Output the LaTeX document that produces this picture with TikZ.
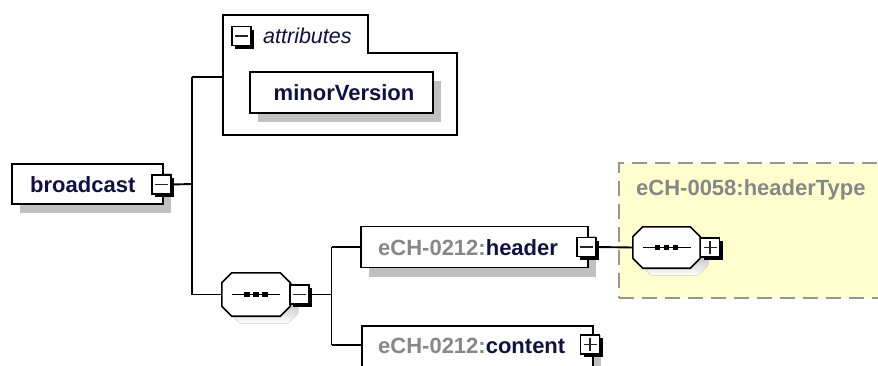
\documentclass[tikz,border=0pt]{standalone}
\usepackage{fontspec}
\setmainfont{Liberation Sans}
\usetikzlibrary{shadows,calc}
\definecolor{navy}{RGB}{16,16,70}
\definecolor{pref}{RGB}{135,135,135}
\definecolor{shade}{RGB}{192,192,192}
\definecolor{ylw}{RGB}{255,255,206}
\definecolor{dashc}{RGB}{150,150,150}
\tikzset{
  elembox/.style={draw=black, line width=1.8pt, fill=white, rectangle, inner sep=0pt,
    drop shadow={shadow xshift=8pt, shadow yshift=-9pt, fill=shade, opacity=1}},
  btnbox/.style={draw=black, line width=1.5pt, fill=white, rectangle, inner sep=0pt,
    minimum width=19pt, minimum height=19pt,
    drop shadow={shadow xshift=3.2pt, shadow yshift=-3.2pt, fill=black, opacity=1}},
  seqanchor/.style={rectangle, inner sep=0pt, draw=none},
  conn/.style={draw=black, line width=1.9pt},
  lbl/.style={inner sep=0pt, text=navy, font=\fontsize{22}{24}\selectfont\bfseries},
  sign/.style={line width=1.8pt, draw=black!85},
}
\newcommand{\minussign}[1]{\draw[sign] ([xshift=-6.5pt]#1.center) -- ([xshift=6.5pt]#1.center);}
\newcommand{\plussign}[1]{\draw[sign] ([xshift=-6.5pt]#1.center) -- ([xshift=6.5pt]#1.center);
  \draw[sign] ([yshift=-6.5pt]#1.center) -- ([yshift=6.5pt]#1.center);}
\newcommand{\octapath}[2]{% node, offset
  ($(#1.north west)+(#2)+(10,0)$) -- ($(#1.north east)+(#2)+(-10,0)$) --
  ($(#1.north east)+(#2)+(0,10)$) -- ($(#1.south east)+(#2)+(0,-10)$) --
  ($(#1.south east)+(#2)+(-10,0)$) -- ($(#1.south west)+(#2)+(10,0)$) --
  ($(#1.south west)+(#2)+(0,-10)$) -- ($(#1.north west)+(#2)+(0,10)$) -- cycle}
\newcommand{\seqglyph}[1]{%
  \fill[shade] \octapath{#1}{8,7};
  \draw[line width=1.6pt, fill=white] \octapath{#1}{0,0};
  \draw[line width=1.5pt] ([xshift=-24pt]#1.center) -- ([xshift=24pt]#1.center);
  \foreach \dx in {-9,0,9} {\fill ([xshift=\dx pt]#1.center) +(-2.7pt,-2.7pt) rectangle +(2.7pt,2.7pt);}}
\begin{document}
\begin{tikzpicture}[x=1pt,y=-1pt]
\useasboundingbox (0,0) rectangle (878,365);
\clip (0,0) rectangle (878,365);

% headerType dashed area
\node[draw=dashc, fill=ylw, line width=2pt, dash pattern=on 15pt off 8pt, rectangle,
  minimum width=280pt, minimum height=135pt, anchor=north west, inner sep=0pt] (htype) at (618,162) {};
\node[lbl, text=pref, anchor=base west] (htypet) at (636,195) {eCH-0058:headerType};

% attributes group
\draw[line width=1.8pt, fill=white] (223,15) -- (368,15) -- (368,53) -- (457,53) -- (457,135) -- (223,135) -- cycle;
\coordinate (attrin) at (223,77);
\node[btnbox] (attrbtn) at (241.5,36) {};
\minussign{attrbtn}
\node[inner sep=0pt, anchor=base west, text=navy, font=\fontsize{21.5}{24}\selectfont\itshape] (attrt) at (263,43) {attributes};

% minorVersion
\node[elembox, minimum width=183pt, minimum height=41pt] (minor) at (341.5,92.5) {};
\node[lbl, anchor=base] (minort) at (344,100.5) {minorVersion};

% broadcast
\node[elembox, minimum width=151pt, minimum height=40pt] (bc) at (87.5,184) {};
\node[lbl, anchor=base west] (bct) at (30,192) {broadcast};
\node[btnbox] (bcbtn) at (161.5,184.5) {};
\minussign{bcbtn}

% sequence 1
\node[seqanchor, minimum width=68pt, minimum height=43pt] (seq1) at (256,294.5) {};
\seqglyph{seq1}
\node[btnbox] (seq1btn) at (299.5,294.5) {};
\minussign{seq1btn}

% header
\node[elembox, minimum width=227pt, minimum height=41pt] (hdr) at (474.5,247) {};
\node[lbl, anchor=base west] (hdrt) at (378,255) {\textcolor{pref}{eCH-0212:}header};
\node[btnbox] (hdrbtn) at (586.5,247) {};
\minussign{hdrbtn}

% content
\node[elembox, minimum width=231pt, minimum height=41pt, anchor=north west] (cnt) at (361,325) {};
\node[lbl, anchor=base west] (cntt) at (378,353) {\textcolor{pref}{eCH-0212:}content};
\node[btnbox] (cntbtn) at (590,344.5) {};
\plussign{cntbtn}

% sequence 2 in headerType
\node[seqanchor, minimum width=67pt, minimum height=41pt] (seq2) at (666.5,247.5) {};
\seqglyph{seq2}
\node[btnbox] (seq2btn) at (710,247.5) {};
\plussign{seq2btn}

% connectors
\coordinate (j1) at (192,184);
\coordinate (j1t) at (192,77);
\coordinate (j1b) at (192,294.5);
\draw[conn] (bcbtn.east) -- (j1);
\draw[conn] (j1t) -- (j1b);
\draw[conn] (j1t) -- (attrin);
\draw[conn] (j1b) -- (seq1.west);

\coordinate (j2) at (331.5,294.5);
\coordinate (j2t) at (331.5,247);
\coordinate (j2b) at (331.5,345);
\draw[conn] (seq1btn.east) -- (j2);
\draw[conn] (j2t) -- (j2b);
\draw[conn] (j2t) -- (hdr.west);
\draw[conn] (j2b) -- (cnt.west |- j2b);

\draw[conn] (hdrbtn.east) -- (seq2.west);
\end{tikzpicture}
\end{document}
